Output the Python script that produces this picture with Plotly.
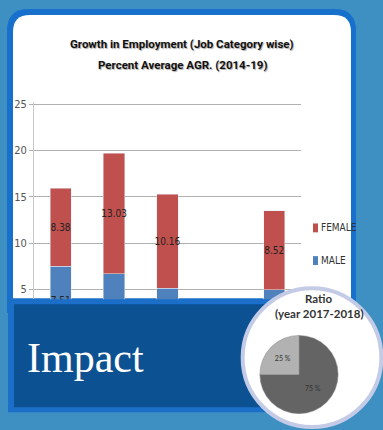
import plotly.graph_objects as go

# ---------------- data ----------------
categories = ["Job 1", "Job 2", "Job 3", "Job 4", "Job 5"]
male = [7.51, 6.67, 5.09, None, 4.95]
female = [8.38, 13.03, 10.16, None, 8.52]
# only the first male label is (partly) visible above the Impact panel
male_text = ["7.51", "", "", "", ""]
female_text = ["8.38", "13.03", "10.16", "", "8.52"]
y_ticks = [5, 10, 15, 20, 25]

ratio_labels = ["Male", "Female"]
ratio_values = [75, 25]
ratio_text = ["75 %", "25 %"]

series_names = ["FEMALE", "MALE"]
series_colors = ["#c0504d", "#4f81bd"]

title_lines = ["Growth in Employment (Job Category wise)", "Percent Average AGR. (2014-19)"]

W, H = 383, 430
NARROW = "DejaVu Sans Condensed, Liberation Sans Narrow, sans-serif"


def px(x):
    return x / W


def py(y):
    return 1 - y / H


def rrect(x0, y0, x1, y1, r):
    pts = [
        f"M{px(x0 + r)},{py(y0)}",
        f"L{px(x1 - r)},{py(y0)}",
        f"Q{px(x1)},{py(y0)} {px(x1)},{py(y0 + r)}",
        f"L{px(x1)},{py(y1)}",
        f"L{px(x0)},{py(y1)}",
        f"L{px(x0)},{py(y0 + r)}",
        f"Q{px(x0)},{py(y0)} {px(x0 + r)},{py(y0)}",
        "Z",
    ]
    return " ".join(pts)


def rect(x0, y0, x1, y1, color):
    return dict(type="rect", xref="paper", yref="paper",
                x0=px(x0), x1=px(x1), y0=py(y1), y1=py(y0),
                fillcolor=color, line=dict(width=0), layer="below")


fig = go.Figure()

for vals, txt, name, color in [(male, male_text, series_names[1], series_colors[1]),
                               (female, female_text, series_names[0], series_colors[0])]:
    fig.add_trace(go.Bar(
        x=categories, y=vals, name=name, marker_color=color,
        text=txt, textposition="inside", insidetextanchor="middle", textangle=0,
        textfont=dict(family=NARROW, size=10, color="#222"),
        constraintext="none", cliponaxis=True, width=0.4, hoverinfo="skip",
        showlegend=False,
    ))

# white circle (single-slice pie so it sits above the Impact panel)
fig.add_trace(go.Pie(
    values=[1], labels=["circle"], marker=dict(colors=["white"], line=dict(color="#c3cbe6", width=4)),
    textinfo="none", hoverinfo="skip", sort=False, showlegend=False,
    domain=dict(x=[px(242), px(382)], y=[py(427), py(287)]),
))
fig.add_trace(go.Pie(
    values=ratio_values, labels=ratio_labels, text=ratio_text, textinfo="text",
    textposition="inside", insidetextorientation="horizontal",
    insidetextfont=dict(family="Lato, sans-serif", size=7, color="#333"),
    marker=dict(colors=["#646464", "#b2b2b2"], line=dict(color="#8a8a8a", width=0.5)),
    direction="clockwise", rotation=0, sort=False, hoverinfo="skip", showlegend=False,
    domain=dict(x=[px(259.5), px(338.5)], y=[py(413.5), py(334.5)]),
))

shapes = [
    dict(type="path", xref="paper", yref="paper", path=rrect(7, 5, 356, 312, 22),
         fillcolor="#1670cc", line=dict(width=0), layer="below"),
    dict(type="path", xref="paper", yref="paper", path=rrect(13, 11, 351, 312, 17),
         fillcolor="white", line=dict(width=0), layer="below"),
    rect(8, 297, 300, 412, "#1b6fc8"),
    rect(14, 303, 300, 407, "#0c5192"),
]
leg_y = [226, 259]
for name, color, yy in zip(series_names, series_colors, leg_y):
    shapes.append(rect(313, yy - 4.5, 318, yy + 4.5, color))

annotations = []
for line, yy in zip(title_lines, [40, 62]):
    annotations.append(dict(
        text=f"<b>{line}</b>", x=px(182), y=py(yy), xref="paper", yref="paper", showarrow=False,
        font=dict(family="Roboto, sans-serif", size=11.5, color="#111", shadow="1px 1px 1px #aaa"),
        xanchor="center", yanchor="middle"))
annotations += [
    dict(text="Impact", x=px(85), y=py(357), xref="paper", yref="paper", showarrow=False,
         font=dict(family="Liberation Serif, serif", size=42, color="white"),
         xanchor="center", yanchor="middle"),
    dict(text="<b>Ratio</b>", x=px(318), y=py(297), xref="paper", yref="paper",
         showarrow=False, font=dict(family="Lato, sans-serif", size=11.5, color="#333"),
         xanchor="center", yanchor="middle"),
    dict(text="<b>(year 2017-2018)</b>", x=px(319), y=py(312), xref="paper", yref="paper",
         showarrow=False, font=dict(family="Lato, sans-serif", size=11.5, color="#333"),
         xanchor="center", yanchor="middle"),
]
for name, yy in zip(series_names, leg_y):
    annotations.append(dict(text=name, x=px(319), y=py(yy), xref="paper", yref="paper",
                            showarrow=False, xanchor="left", yanchor="middle",
                            font=dict(family=NARROW, size=10, color="#333")))

ypx_per_unit = (288 - 101) / 20.0
zero_px = 288 + 5 * ypx_per_unit
y_lo = (zero_px - 298) / ypx_per_unit
y_hi = 25 + 2 / ypx_per_unit

fig.update_layout(
    width=W, height=H, margin=dict(l=0, r=0, t=0, b=0),
    paper_bgcolor="#3e90c2", plot_bgcolor="rgba(0,0,0,0)",
    barmode="stack", showlegend=False,
    shapes=shapes, annotations=annotations,
    xaxis=dict(domain=[px(34), px(301)], showticklabels=False, showgrid=False,
               zeroline=False, ticks="", fixedrange=True),
    yaxis=dict(domain=[py(298), py(99)], range=[y_lo, y_hi], tickvals=y_ticks,
               showgrid=True, gridcolor="#b0b0b0", gridwidth=1, zeroline=False,
               showline=True, linecolor="#c8c8c8", linewidth=1,
               ticks="outside", ticklen=4, tickcolor="#b0b0b0",
               tickfont=dict(family=NARROW, size=11, color="#555"), fixedrange=True),
)

fig.write_html("out.html")
